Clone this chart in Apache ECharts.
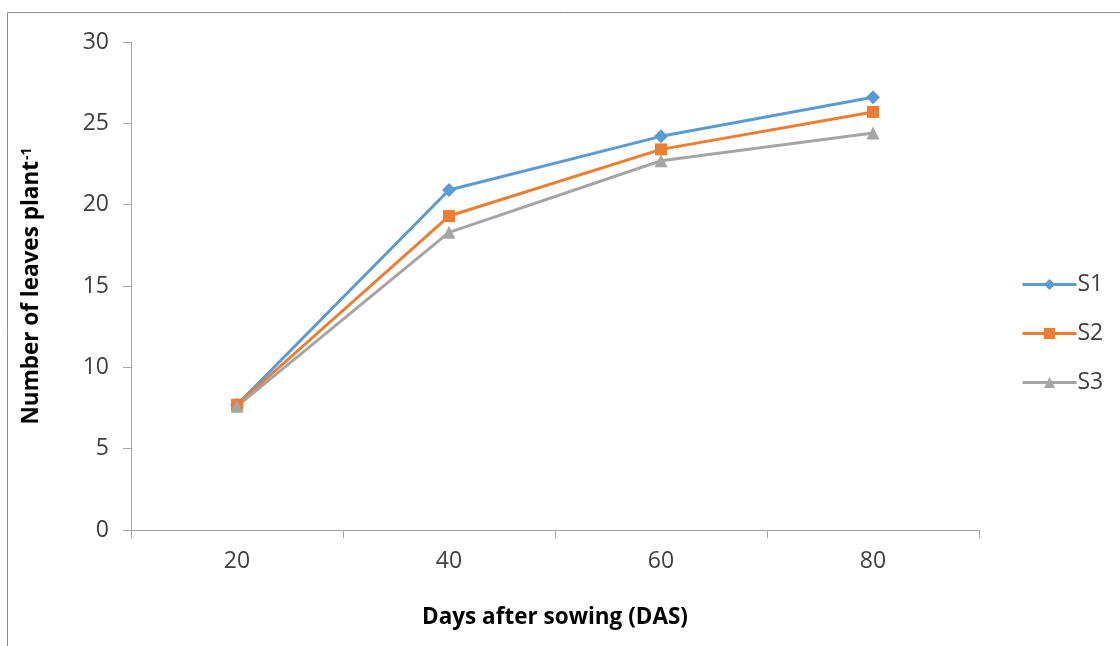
<!DOCTYPE html>
<html>
<head>
<meta charset="utf-8">
<script src="https://cdn.jsdelivr.net/npm/echarts@6/dist/echarts.min.js"></script>
<style>
html,body{margin:0;padding:0;background:#fff;}
#main{width:1120px;height:646px;}
</style>
</head>
<body>
<div id="main"></div>
<script>
// data
var days = ['20', '40', '60', '80'];
var s1 = [7.7, 20.9, 24.2, 26.6];
var s2 = [7.7, 19.3, 23.4, 25.7];
var s3 = [7.6, 18.3, 22.7, 24.4];
var yTicks = [0, 5, 10, 15, 20, 25, 30];

var font = 'Open Sans';
var chart = echarts.init(document.getElementById('main'));

function line(name, data, color, symbol, size) {
	return {
		name: name,
		type: 'line',
		data: data,
		symbol: symbol,
		symbolSize: size,
		showAllSymbol: true,
		lineStyle: {color: color, width: 3},
		itemStyle: {color: color},
		emphasis: {disabled: true},
		z: 3
	};
}

var option = {
	animation: false,
	textStyle: {fontFamily: font},
	graphic: [{
		type: 'rect',
		shape: {x: 7.5, y: 12.5, width: 1300, height: 800},
		style: {fill: 'none', stroke: '#8c8c8c', lineWidth: 1},
		silent: true
	}],
	grid: {left: 131, right: 141, top: 42, bottom: 116},
	legend: {
		orient: 'vertical',
		left: 1021,
		top: 273,
		padding: 0,
		itemWidth: 54,
		itemHeight: 14,
		itemGap: 26,
		lineStyle: {width: 3},
		textStyle: {fontSize: 23, color: '#404040', fontFamily: font, padding: [0, 0, 0, -4]},
		data: ['S1', 'S2', 'S3']
	},
	xAxis: {
		type: 'category',
		data: days,
		boundaryGap: true,
		name: 'Days after sowing (DAS)',
		nameLocation: 'middle',
		nameGap: 76,
		nameTextStyle: {fontSize: 22.5, fontWeight: 'bold', color: '#000'},
		axisLine: {lineStyle: {color: '#a6a6a6', width: 1}},
		axisTick: {show: true, length: 8, lineStyle: {color: '#a6a6a6'}},
		axisLabel: {fontSize: 23, color: '#404040', margin: 20},
		splitLine: {show: false}
	},
	yAxis: {
		type: 'value',
		min: yTicks[0],
		max: yTicks[yTicks.length - 1],
		interval: 5,
		name: 'Number of leaves plant{sup|-1}',
		nameLocation: 'middle',
		nameGap: 88,
		nameRotate: 90,
		nameTextStyle: {
			fontSize: 22.5, fontWeight: 'bold', color: '#000',
			rich: {sup: {fontSize: 14, fontWeight: 'bold', color: '#000', verticalAlign: 'top', padding: [0, 0, 9, 1]}}
		},
		axisLine: {show: true, lineStyle: {color: '#a6a6a6', width: 1}},
		axisTick: {show: true, length: 8, lineStyle: {color: '#a6a6a6'}},
		axisLabel: {fontSize: 23, color: '#404040', margin: 22},
		splitLine: {show: false}
	},
	series: [
		line('S1', s1, '#5b9bd5', 'diamond', 14),
		line('S2', s2, '#ed7d31', 'rect', 12),
		line('S3', s3, '#a5a5a5', 'triangle', 13)
	]
};

chart.setOption(option);
</script>
</body>
</html>
